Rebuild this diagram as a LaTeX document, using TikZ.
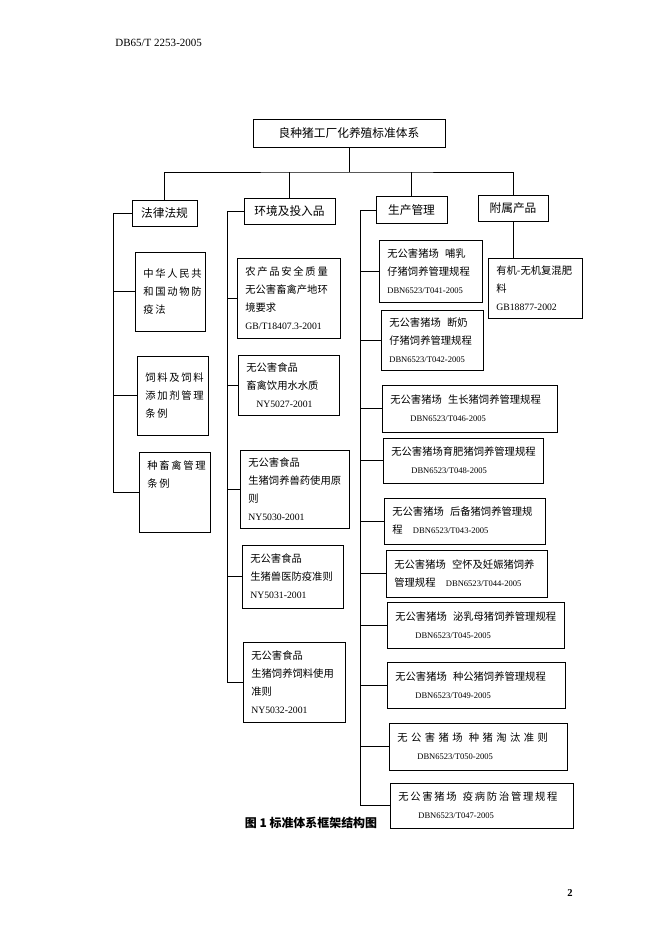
\documentclass[tikz,border=0pt]{standalone}
\usepackage{fontspec}
\setmainfont{Noto Sans CJK SC}
\newfontfamily\lat{Liberation Serif}
\newcommand{\dbn}[1]{{\lat\fontsize{7.3}{9}\selectfont #1}}
\newcommand{\gbno}[1]{{\lat\fontsize{8.3}{10}\selectfont #1}}
\newcommand{\gap}{\kern0.6em}
\tikzset{
  cat/.style={draw, minimum height=0.8cm, inner xsep=0.2cm, font=\fontsize{10}{12}\selectfont},
  leaf/.style={draw, align=left, inner xsep=0.25cm, inner ysep=0.1cm},
}
\begin{document}
\begin{tikzpicture}[line width=0.8pt, font=\fontsize{8.8}{15.4}\selectfont]
    \useasboundingbox (0,0) rectangle (19.86,28.08);

    % Page head, caption and page number
    \node[anchor=west, font=\lat\fontsize{9.4}{11}\selectfont] (docno) at (3.33,26.79) {DB65/T 2253-2005};
    \node[font=\bfseries\fontsize{10.2}{12}\selectfont] (caption) at (9.33,3.39) {图 1 标准体系框架结构图};
    \node[font=\lat\bfseries\fontsize{9}{11}\selectfont] (pageno) at (17.1,1.29) {2};

    % Top of the tree
    \node[cat, minimum width=5.76cm, minimum height=0.84cm] (title) at (10.47,24.09) {良种猪工厂化养殖标准体系};

    % Four categories
    \node[cat, minimum width=1.95cm] (law) at (4.935,21.675) {法律法规};
    \node[cat, minimum width=2.73cm] (env) at (8.685,21.735) {环境及投入品};
    \node[cat, minimum width=2.13cm] (prod) at (12.345,21.78) {生产管理};
    \node[cat, minimum width=2.1cm] (attach) at (15.39,21.825) {附属产品};

    % Laws and regulations
    \node[leaf, text width=1.6cm, minimum height=2.37cm] (fa1) at (5.1,19.335) {中\,华\,人\,民\,共\\和\,国\,动\,物\,防\\疫\,法};
    \node[leaf, text width=1.63cm, minimum height=2.37cm] (fa2) at (5.175,16.215) {饲\,料\,及\,饲\,料\\添\,加\,剂\,管\,理\\条\,例};
    \node[leaf, text width=1.63cm, minimum height=2.4cm] (fa3) at (5.235,13.32) {种\,畜\,禽\,管\,理\\条\,例\\\mbox{}\\\mbox{}};

    % Environment and inputs
    \node[leaf, text width=2.59cm, minimum height=2.4cm] (env1) at (8.655,19.14) {农\,产\,品\,安\,全\,质\,量\\无公害畜禽产地环\\境要求\\\gbno{GB/T18407.3-2001}};
    \node[leaf, text width=2.53cm, minimum height=1.8cm] (env2) at (8.655,16.53) {无公害食品\\畜禽饮用水水质\\\hspace*{0.3cm}\gbno{NY5027-2001}};
    \node[leaf, text width=2.77cm, minimum height=2.34cm] (env3) at (8.835,13.41) {无公害食品\\生猪饲养兽药使用原\\则\\\gbno{NY5030-2001}};
    \node[leaf, text width=2.53cm, minimum height=1.89cm] (env4) at (8.775,10.785) {无公害食品\\生猪兽医防疫准则\\\gbno{NY5031-2001}};
    \node[leaf, text width=2.56cm, minimum height=2.4cm] (env5) at (8.82,7.62) {无公害食品\\生猪饲养饲料使用\\准则\\\gbno{NY5032-2001}};

    % Production management
    \node[leaf, text width=2.59cm, minimum height=1.86cm] (p1) at (12.915,19.95) {无公害猪场\gap 哺乳\\仔猪饲养管理规程\\\dbn{DBN6523/T041-2005}};
    \node[leaf, text width=2.56cm, minimum height=1.8cm] (p2) at (12.96,17.88) {无公害猪场\gap 断奶\\仔猪饲养管理规程\\\dbn{DBN6523/T042-2005}};
    \node[leaf, text width=4.75cm, minimum height=1.41cm] (p3) at (14.085,15.825) {无公害猪场\gap 生长猪饲养管理规程\\\hspace*{0.6cm}\dbn{DBN6523/T046-2005}};
    \node[leaf, text width=4.3cm, minimum height=1.35cm] (p4) at (13.89,14.265) {无公害猪场育肥猪饲养管理规程\\\hspace*{0.6cm}\dbn{DBN6523/T048-2005}};
    \node[leaf, text width=4.33cm, minimum height=1.38cm] (p5) at (13.935,12.45) {无公害猪场\gap 后备猪饲养管理规\\程\quad\dbn{DBN6523/T043-2005}};
    \node[leaf, text width=4.33cm, minimum height=1.41cm] (p6) at (13.995,10.875) {无公害猪场\gap 空怀及妊娠猪饲养\\管理规程\quad\dbn{DBN6523/T044-2005}};
    \node[leaf, text width=4.81cm, minimum height=1.38cm] (p7) at (14.265,9.33) {无公害猪场\gap 泌乳母猪饲养管理规程\\\hspace*{0.6cm}\dbn{DBN6523/T045-2005}};
    \node[leaf, text width=4.84cm, minimum height=1.38cm] (p8) at (14.28,7.53) {无公害猪场\gap 种公猪饲养管理规程\\\hspace*{0.6cm}\dbn{DBN6523/T049-2005}};
    \node[leaf, text width=4.84cm, minimum height=1.41cm] (p9) at (14.34,5.685) {无~公~害~猪~场\gap 种~猪~淘~汰~准~则\\\hspace*{0.6cm}\dbn{DBN6523/T050-2005}};
    \node[leaf, text width=4.99cm, minimum height=1.35cm] (p10) at (14.445,3.915) {无\,公\,害\,猪\,场\gap 疫\,病\,防\,治\,管\,理\,规\,程\\\hspace*{0.6cm}\dbn{DBN6523/T047-2005}};

    % Attached products
    \node[leaf, text width=2.32cm, minimum height=1.8cm] (a1) at (16.05,19.44) {有机-无机复混肥\\料\\\gbno{GB18877-2002}};

    % Trunk from the title to the categories
    \coordinate (trunk) at (10.65,22.92);
    \draw (title.south) -- (title.south |- trunk);
    \draw (law.north) |- (trunk) -| (attach.north);
    \draw (env.north) -- (env.north |- trunk);
    \draw (prod.north) -- (prod.north |- trunk);

    % Spines down the left of each column
    \coordinate (s1) at (3.39,0);
    \coordinate (s2) at (6.81,0);
    \coordinate (s3) at (10.8,0);
    \draw (law.west) -| (s1 |- fa3.west) -- (fa3.west);
    \foreach \n in {1,2}
        \draw (s1 |- fa\n.west) -- (fa\n.west);
    \draw (env.west) -| (s2 |- env5.west) -- (env5.west);
    \foreach \n in {1,...,4}
        \draw (s2 |- env\n.west) -- (env\n.west);
    \draw (prod.west) -| (s3 |- p10.west) -- (p10.west);
    \foreach \n in {1,...,9}
        \draw (s3 |- p\n.west) -- (p\n.west);
    \draw (attach.south) -- (attach.south |- a1.north);
\end{tikzpicture}
\end{document}
